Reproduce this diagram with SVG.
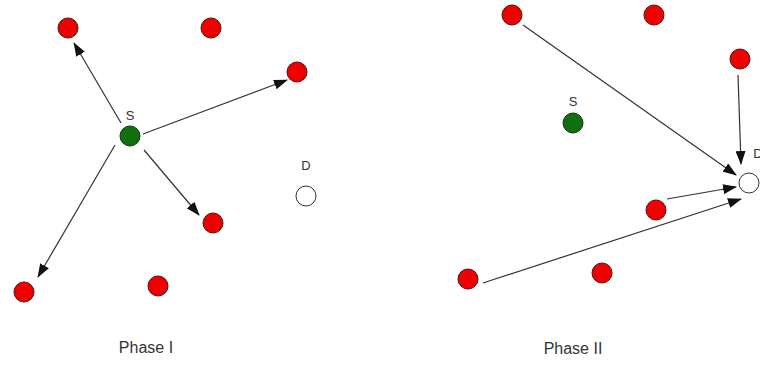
<svg xmlns="http://www.w3.org/2000/svg" width="760" height="365" viewBox="0 0 760 365">
  <style>
    .red { fill: #ee0000; stroke: #5a1010; stroke-width: 1; }
    .src { fill: #107010; stroke: #0a3a0a; stroke-width: 1; }
    .dst { fill: #ffffff; stroke: #333333; stroke-width: 1; }
    .lbl { font-family: "Liberation Sans", Arial, sans-serif; font-size: 13px; fill: #333333; text-anchor: middle; }
    .cap { font-family: "Liberation Sans", Arial, sans-serif; font-size: 16px; fill: #333333; text-anchor: middle; }
    .edge { stroke: #333333; stroke-width: 1.2; fill: none; marker-end: url(#arrow); }
  </style>
  <defs>
    <marker id="arrow" markerUnits="userSpaceOnUse" markerWidth="14" markerHeight="10" refX="13" refY="5" orient="auto">
      <path d="M0,0 L14,5 L0,10 Z" fill="#111111"/>
    </marker>
  </defs>
  <rect width="760" height="365" fill="#ffffff"/>

  <!-- Phase I: source broadcasts to its neighbours -->
  <g id="connectors-phase1">
    <line class="edge" x1="121" y1="123" x2="74" y2="43"/>
    <line class="edge" x1="143" y1="134" x2="287" y2="80"/>
    <line class="edge" x1="144" y1="150" x2="199" y2="215"/>
    <line class="edge" x1="115" y1="145" x2="38" y2="277"/>
  </g>
  <g id="p1-n1"><circle class="red" cx="68" cy="28" r="10"/></g>
  <g id="p1-n2"><circle class="red" cx="211" cy="28" r="10"/></g>
  <g id="p1-n3"><circle class="red" cx="297" cy="72" r="10"/></g>
  <g id="p1-s"><circle class="src" cx="130" cy="136" r="10"/><text class="lbl" x="130" y="120">S</text></g>
  <g id="p1-d"><circle class="dst" cx="306" cy="196" r="10"/><text class="lbl" x="306" y="170">D</text></g>
  <g id="p1-n4"><circle class="red" cx="213" cy="223" r="10"/></g>
  <g id="p1-n5"><circle class="red" cx="24" cy="292" r="10"/></g>
  <g id="p1-n6"><circle class="red" cx="158" cy="286" r="10"/></g>
  <text class="cap" x="146" y="353">Phase I</text>

  <!-- Phase II: relays forward to the destination -->
  <g id="connectors-phase2">
    <line class="edge" x1="523" y1="25" x2="736" y2="175"/>
    <line class="edge" x1="738" y1="75" x2="741" y2="164"/>
    <line class="edge" x1="667" y1="199" x2="736" y2="187"/>
    <line class="edge" x1="483" y1="283" x2="741" y2="199"/>
  </g>
  <g id="p2-n1"><circle class="red" cx="512" cy="15" r="10"/></g>
  <g id="p2-n2"><circle class="red" cx="654" cy="15" r="10"/></g>
  <g id="p2-n3"><circle class="red" cx="740" cy="59" r="10"/></g>
  <g id="p2-s"><circle class="src" cx="573" cy="123" r="10"/><text class="lbl" x="573" y="106">S</text></g>
  <g id="p2-d"><circle class="dst" cx="749" cy="183" r="10"/><text class="lbl" x="758" y="158">D</text></g>
  <g id="p2-n4"><circle class="red" cx="656" cy="210" r="10"/></g>
  <g id="p2-n5"><circle class="red" cx="602" cy="273" r="10"/></g>
  <g id="p2-n6"><circle class="red" cx="468" cy="279" r="10"/></g>
  <text class="cap" x="573" y="354">Phase II</text>
</svg>
